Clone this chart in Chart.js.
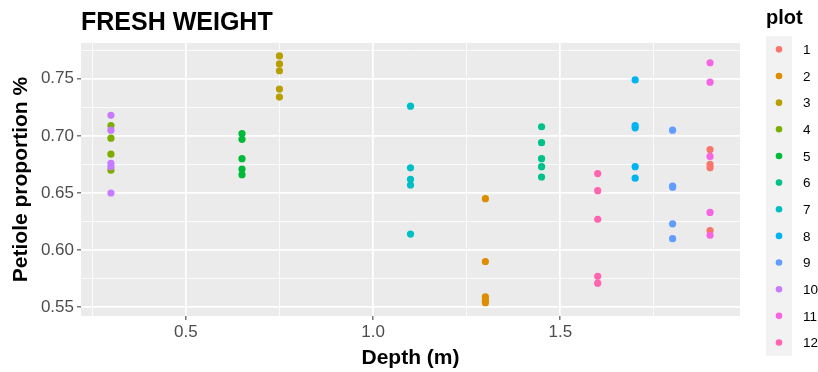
<!DOCTYPE html>
<html>
<head>
<meta charset="utf-8">
<script src="https://cdn.jsdelivr.net/npm/chart.js@4.4.0/dist/chart.umd.min.js"></script>
<style>
  html, body { margin: 0; padding: 0; background: #fff; }
  canvas { display: block; }
</style>
</head>
<body>
<canvas id="chart" width="818" height="372"></canvas>
<script>
// plot ids and their ggplot hue colours
const plotLabels = ['1', '2', '3', '4', '5', '6', '7', '8', '9', '10', '11', '12'];
const plotColors = ['#F8766D', '#DE8C00', '#B79F00', '#7CAE00', '#00BA38', '#00C08B',
                    '#00BFC4', '#00B4F0', '#619CFF', '#C77CFF', '#F564E3', '#FF64B0'];

// depth (m) of each plot
const plotDepth = [1.9, 1.3, 0.75, 0.3, 0.65, 1.45, 1.1, 1.7, 1.8, 0.3, 1.9, 1.6];

// petiole proportion readings per plot
const plot1  = [0.688, 0.675, 0.672, 0.617];
const plot2  = [0.645, 0.590, 0.559, 0.556, 0.554];
const plot3  = [0.770, 0.763, 0.757, 0.741, 0.734];
const plot4  = [0.709, 0.698, 0.684, 0.670];
const plot5  = [0.702, 0.697, 0.680, 0.671, 0.666];
const plot6  = [0.708, 0.694, 0.680, 0.673, 0.664];
const plot7  = [0.726, 0.672, 0.662, 0.657, 0.614];
const plot8  = [0.749, 0.709, 0.707, 0.673, 0.663];
const plot9  = [0.705, 0.656, 0.655, 0.623, 0.610];
const plot10 = [0.718, 0.705, 0.676, 0.673, 0.650];
const plot11 = [0.764, 0.747, 0.682, 0.633, 0.613];
const plot12 = [0.667, 0.652, 0.627, 0.577, 0.571];
const plotValues = [plot1, plot2, plot3, plot4, plot5, plot6, plot7, plot8, plot9, plot10, plot11, plot12];

// axis ticks (major get labels, minor only grid lines)
const xTicks = [0.25, 0.5, 0.75, 1.0, 1.25, 1.5, 1.75];
const xMajor = [0.5, 1.0, 1.5];
const yTicks = [0.55, 0.575, 0.6, 0.625, 0.65, 0.675, 0.7, 0.725, 0.75, 0.775];
const yMajor = [0.55, 0.6, 0.65, 0.7, 0.75];

const isIn = (list, v) => list.some(m => Math.abs(m - v) < 1e-6);

Chart.defaults.font.family = '"Liberation Sans", Arial, sans-serif';

const datasets = plotLabels.map((lab, i) => ({
  label: lab,
  data: plotValues[i].map(v => ({ x: plotDepth[i], y: v })),
  backgroundColor: plotColors[i],
  borderWidth: 0,
  pointRadius: 3.6,
  pointHoverRadius: 3.6,
  order: plotLabels.length - i // later plots on top, like ggplot
}));

const panelBg = {
  id: 'panelBg',
  beforeDraw(chart) {
    const { ctx, chartArea: a } = chart;
    ctx.save();
    ctx.fillStyle = '#EBEBEB';
    ctx.fillRect(a.left, a.top, a.width, a.height);
    ctx.restore();
  }
};

// ggplot style legend on the right
const plotLegend = {
  id: 'plotLegend',
  afterDraw(chart) {
    const { ctx, chartArea: a } = chart;
    const x0 = a.right + 26;
    const top = 36;
    const step = 26.65;
    ctx.save();
    ctx.fillStyle = '#000';
    ctx.font = 'bold 20px "Liberation Sans", Arial, sans-serif';
    ctx.textBaseline = 'alphabetic';
    ctx.textAlign = 'left';
    ctx.fillText('plot', x0, 24);
    ctx.fillStyle = '#F2F2F2';
    ctx.fillRect(x0, top, 26, step * plotLabels.length);
    ctx.font = '13.5px "Liberation Sans", Arial, sans-serif';
    ctx.textBaseline = 'middle';
    plotLabels.forEach((lab, i) => {
      const cy = top + step * (i + 0.5);
      ctx.fillStyle = plotColors[i];
      ctx.beginPath();
      ctx.arc(x0 + 13, cy, 3.3, 0, Math.PI * 2);
      ctx.fill();
      ctx.fillStyle = '#000';
      ctx.fillText(lab, x0 + 37, cy + 1);
    });
    ctx.restore();
  }
};

new Chart(document.getElementById('chart'), {
  type: 'scatter',
  data: { datasets },
  plugins: [panelBg, plotLegend],
  options: {
    responsive: false,
    animation: false,
    events: [],
    layout: { padding: { left: 0, right: 78, top: 0, bottom: 0 } },
    plugins: {
      legend: { display: false },
      tooltip: { enabled: false },
      title: {
        display: true,
        text: 'FRESH WEIGHT',
        align: 'start',
        fullSize: false,
        color: '#000',
        font: { size: 25, weight: 'bold' },
        padding: { top: 8, bottom: 5 }
      }
    },
    scales: {
      x: {
        type: 'linear',
        min: 0.22,
        max: 1.98,
        afterBuildTicks: s => { s.ticks = xTicks.map(v => ({ value: v })); },
        afterFit: s => { s.height = 56; },
        border: { display: false },
        grid: {
          color: '#FFFFFF',
          lineWidth: c => isIn(xMajor, c.tick.value) ? 1.7 : 0.8,
          drawTicks: true,
          tickLength: 4,
          tickWidth: 1,
          tickColor: c => isIn(xMajor, c.tick.value) ? '#333333' : 'rgba(0,0,0,0)'
        },
        ticks: {
          autoSkip: false,
          maxRotation: 0,
          padding: 2,
          color: '#4D4D4D',
          font: { size: 17 },
          callback: v => isIn(xMajor, v) ? v.toFixed(1) : ''
        },
        title: {
          display: true,
          text: 'Depth (m)',
          color: '#000',
          font: { size: 21, weight: 'bold' },
          padding: { top: 0, bottom: 1 }
        }
      },
      y: {
        type: 'linear',
        min: 0.5423,
        max: 0.7813,
        afterBuildTicks: s => { s.ticks = yTicks.map(v => ({ value: v })); },
        afterFit: s => { s.width = 81; },
        border: { display: false },
        grid: {
          color: '#FFFFFF',
          lineWidth: c => isIn(yMajor, c.tick.value) ? 1.7 : 0.8,
          drawTicks: true,
          tickLength: 4,
          tickWidth: 1,
          tickColor: c => isIn(yMajor, c.tick.value) ? '#333333' : 'rgba(0,0,0,0)'
        },
        ticks: {
          autoSkip: false,
          padding: 3,
          color: '#4D4D4D',
          font: { size: 17 },
          callback: v => isIn(yMajor, v) ? v.toFixed(2) : ''
        },
        title: {
          display: true,
          text: 'Petiole proportion %',
          color: '#000',
          font: { size: 21, weight: 'bold' },
          padding: { top: 9, bottom: 4 }
        }
      }
    }
  }
});
</script>
</body>
</html>
